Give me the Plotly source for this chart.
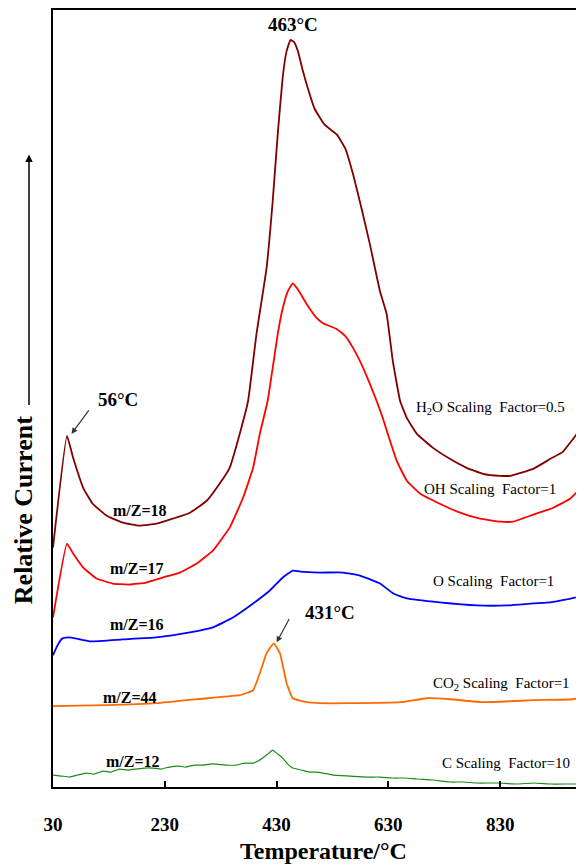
import plotly.graph_objects as go

# Temperature (°C) and relative current (arbitrary units)
h2o_T = [30, 55, 66, 84, 101, 126, 155, 185, 215, 244, 275, 305, 328, 346, 364, 379, 394, 412, 423, 432,
         441, 448, 455, 461, 468, 477, 484, 498, 516, 538, 553, 567, 582, 597, 615, 627, 638, 651, 663, 681,
         710, 740, 770, 799, 830, 848, 889, 920, 942, 967, 980]
h2o_y = [240, 352, 330, 300, 284, 272, 265, 262, 264, 269, 275, 287, 304, 320, 354, 387, 454, 520, 587, 654,
         712, 738, 749, 747, 738, 718, 704, 680, 664, 654, 640, 614, 580, 544, 497, 474, 427, 387, 370, 354,
         340, 329, 320, 314, 312, 312, 319, 329, 336, 354, 367]

oh_T = [30, 55, 66, 84, 108, 137, 167, 197, 226, 257, 287, 316, 346, 370, 388, 400, 414, 423, 432, 441,
        450, 459, 468, 484, 502, 513, 538, 553, 567, 585, 609, 620, 629, 645, 663, 687, 722, 758, 794, 830,
        853, 889, 925, 955, 980]
oh_y = [170, 244, 234, 220, 209, 204, 203, 205, 210, 215, 224, 237, 260, 290, 320, 354, 387, 420, 454, 480,
        497, 505, 499, 484, 470, 465, 459, 452, 440, 420, 387, 370, 354, 327, 307, 294, 284, 275, 269, 266,
        266, 273, 280, 289, 303]

o_T = [30, 38, 47, 60, 96, 155, 215, 275, 316, 352, 388, 418, 441, 459, 472, 507, 549, 579, 615, 639,
       663, 722, 788, 842, 889, 920, 949, 980]
o_y = [132, 142, 149, 150, 146, 148, 150, 155, 160, 170, 184, 197, 210, 217, 216, 215, 215, 212, 204, 194,
       189, 185, 182, 182, 184, 185, 188, 192]

co2_T = [30, 126, 215, 305, 364, 388, 400, 412, 425, 436, 448, 459, 484, 507, 561, 651, 699, 740, 799, 889, 960, 980]
co2_y = [81, 82, 84, 89, 92, 97, 114, 134, 144, 134, 104, 89, 85, 84, 84, 85, 89, 88, 85, 87, 88, 90]

c_T = [30, 45, 59, 74, 89, 104, 119, 134, 149, 164, 179, 194, 208, 223, 238, 253, 268, 283, 298, 310,
       322, 340, 358, 373, 388, 397, 405, 414, 423, 432, 441, 450, 459, 474, 489, 501, 513, 531, 561, 591,
       615, 639, 660, 681, 710, 740, 764, 788, 824, 860, 890, 920, 950, 980]
c_y = [12, 11, 10, 12, 14, 13, 16, 15, 18, 17, 18, 19, 19, 18, 20, 21, 20, 22, 22, 23,
       23, 22, 22, 24, 24, 26, 29, 33, 37, 33, 29, 23, 19, 17, 15, 15, 14, 12, 11, 10,
       10, 9, 9, 8, 7, 5, 5, 4, 4, 3, 4, 3, 3, 3]

tick_vals = [30, 230, 430, 630, 830]
tick_text = ["30", "230", "430", "630", "830"]

series = [
    ("m/Z=18", h2o_T, h2o_y, "#800000", 1.8),
    ("m/Z=17", oh_T, oh_y, "#FF0000", 1.8),
    ("m/Z=16", o_T, o_y, "#0000FF", 1.8),
    ("m/Z=44", co2_T, co2_y, "#FF6A00", 1.8),
    ("m/Z=12", c_T, c_y, "#1A8A1A", 1.2),
]

SERIF = "Liberation Serif, Times New Roman, serif"

fig = go.Figure()
for name, xs, ys, col, w in series:
    fig.add_trace(go.Scatter(x=xs, y=ys, mode="lines", name=name,
                             line=dict(color=col, width=w, shape="spline", smoothing=0.35),
                             showlegend=False))

# curve labels
mz_labels = [("m/Z=18", 186, 277), ("m/Z=17", 180, 219), ("m/Z=16", 180, 163),
             ("m/Z=44", 168, 90), ("m/Z=12", 173, 26)]
for txt, x, y in mz_labels:
    fig.add_annotation(x=x, y=y, text="<b>%s</b>" % txt, showarrow=False,
                       font=dict(family=SERIF, size=16, color="black"))

scale_labels = [("H<sub>2</sub>O Scaling  Factor=0.5", 812, 380),
                ("OH Scaling  Factor=1", 812, 299),
                ("O Scaling  Factor=1", 818, 207),
                ("CO<sub>2</sub> Scaling  Factor=1", 832, 103),
                ("C Scaling  Factor=10", 841, 24)]
for txt, x, y in scale_labels:
    fig.add_annotation(x=x, y=y, text=txt, showarrow=False,
                       font=dict(family=SERIF, size=15, color="black"))

# peak labels
fig.add_annotation(x=460, y=764, text="<b>463°C</b>", showarrow=False,
                   font=dict(family=SERIF, size=19, color="black"))
fig.add_annotation(x=146, y=389, text="<b>56°C</b>", showarrow=False,
                   font=dict(family=SERIF, size=19, color="black"))
fig.add_annotation(x=526, y=175, text="<b>431°C</b>", showarrow=False,
                   font=dict(family=SERIF, size=19, color="black"))
# arrows
fig.add_annotation(x=63, y=354, ax=96, ay=379, axref="x", ayref="y", text="",
                   showarrow=True, arrowhead=2, arrowsize=1, arrowwidth=1.2, arrowcolor="#333333")
fig.add_annotation(x=430, y=145, ax=454, ay=170, axref="x", ayref="y", text="",
                   showarrow=True, arrowhead=2, arrowsize=1, arrowwidth=1.2, arrowcolor="#333333")

# y-axis title with arrow
fig.add_annotation(xref="paper", yref="paper", x=-0.055, y=0.356, text="<b>Relative Current</b>",
                   textangle=-90, showarrow=False, xanchor="center", yanchor="middle",
                   font=dict(family=SERIF, size=26, color="black"))
fig.add_annotation(xref="paper", yref="paper", x=-0.0452, y=0.814, ax=0, ay=252, text="",
                   showarrow=True, arrowhead=2, arrowsize=1, arrowwidth=1.5, arrowcolor="black")

# x-axis title
fig.add_annotation(xref="paper", yref="paper", x=0.51, y=-0.083, text="<b>Temperature/°C</b>",
                   showarrow=False, xanchor="center", yanchor="middle",
                   font=dict(family=SERIF, size=24, color="black"))

fig.update_layout(
    width=576, height=858,
    margin=dict(l=45, r=0, t=0, b=79),
    paper_bgcolor="white", plot_bgcolor="white",
    xaxis=dict(range=[30, 980], tickvals=tick_vals, ticktext=tick_text,
               ticks="inside", ticklen=6, tickwidth=1.5, tickcolor="black",
               showline=True, linewidth=2, linecolor="black", mirror=True,
               showgrid=False, zeroline=False, ticklabelstandoff=19,
               tickfont=dict(family=SERIF, size=19, color="black", weight="bold")),
    yaxis=dict(range=[0, 779], showticklabels=False, ticks="",
               showline=True, linewidth=1.5, linecolor="black",
               showgrid=False, zeroline=False),
)

fig.write_html("out.html")
